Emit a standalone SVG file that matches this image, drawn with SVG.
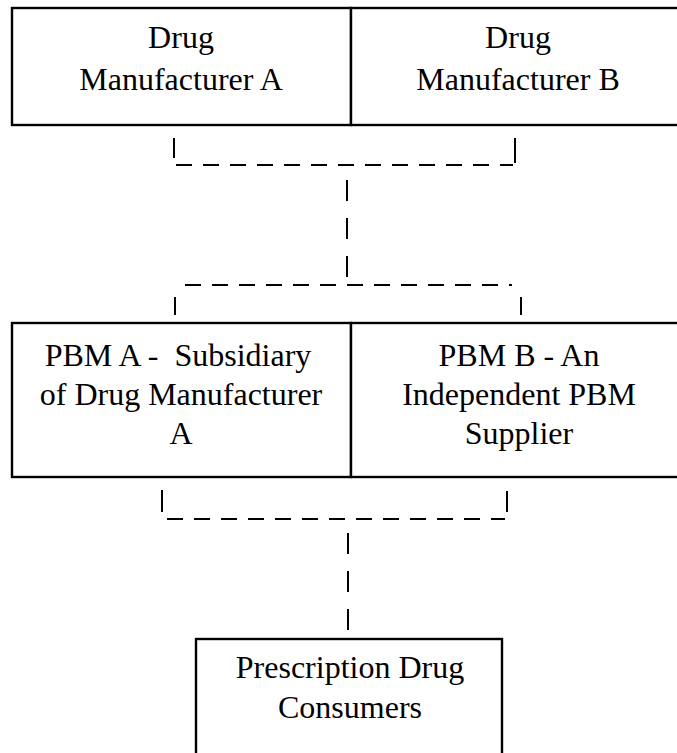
<svg xmlns="http://www.w3.org/2000/svg" width="677" height="753" viewBox="0 0 677 753">
<style>
.box{fill:#fff;stroke:#000;stroke-width:2.4}
.t{font-family:"Liberation Serif","Times New Roman","DejaVu Serif",serif;font-size:32px;fill:#000;text-anchor:middle;white-space:pre}
.dh{stroke:#000;stroke-width:2;stroke-dasharray:16 11;fill:none}
.dv{stroke:#000;stroke-width:2;stroke-dasharray:21 17;fill:none}
.s{stroke:#000;stroke-width:2;fill:none}
</style>
<rect width="677" height="753" fill="#fff"/>
<g id="mfrA">
<rect class="box" x="12" y="8" width="339" height="117"/>
<text class="t" x="181" y="48" font-family="Liberation Serif, serif">Drug</text>
<text class="t" x="181" y="90" font-family="Liberation Serif, serif">Manufacturer A</text>
</g>
<g id="mfrB">
<rect class="box" x="351" y="8" width="336" height="117"/>
<text class="t" x="518" y="48" font-family="Liberation Serif, serif">Drug</text>
<text class="t" x="518" y="90" font-family="Liberation Serif, serif">Manufacturer B</text>
</g>
<g id="pbmA">
<rect class="box" x="12" y="323" width="339" height="154"/>
<text class="t" x="178" y="366" xml:space="preserve" font-family="Liberation Serif, serif">PBM A -  Subsidiary</text>
<text class="t" x="181" y="405" font-family="Liberation Serif, serif">of Drug Manufacturer</text>
<text class="t" x="181" y="444" font-family="Liberation Serif, serif">A</text>
</g>
<g id="pbmB">
<rect class="box" x="351" y="323" width="336" height="154"/>
<text class="t" x="519" y="366" font-family="Liberation Serif, serif">PBM B - An</text>
<text class="t" x="519" y="405" font-family="Liberation Serif, serif">Independent PBM</text>
<text class="t" x="519" y="444" font-family="Liberation Serif, serif">Supplier</text>
</g>
<g id="consumers">
<rect class="box" x="196" y="639" width="306" height="130"/>
<text class="t" x="350" y="678" font-family="Liberation Serif, serif">Prescription Drug</text>
<text class="t" x="350" y="718" font-family="Liberation Serif, serif">Consumers</text>
</g>
<g id="connectors">
<line class="s" x1="174" y1="138" x2="174" y2="158"/>
<line class="s" x1="515" y1="138" x2="515" y2="163"/>
<line class="dh" x1="176" y1="165" x2="513" y2="165"/>
<line class="dv" x1="347" y1="180" x2="347" y2="277"/>
<line class="dh" x1="185" y1="285" x2="512" y2="285"/>
<line class="s" x1="175" y1="297" x2="175" y2="315"/>
<line class="s" x1="521" y1="297" x2="521" y2="315"/>
<line class="s" x1="162" y1="490" x2="162" y2="512"/>
<line class="s" x1="507" y1="491" x2="507" y2="512"/>
<line class="dh" x1="167" y1="519" x2="505" y2="519"/>
<line class="dv" x1="348" y1="533" x2="348" y2="632"/>
</g>
</svg>
